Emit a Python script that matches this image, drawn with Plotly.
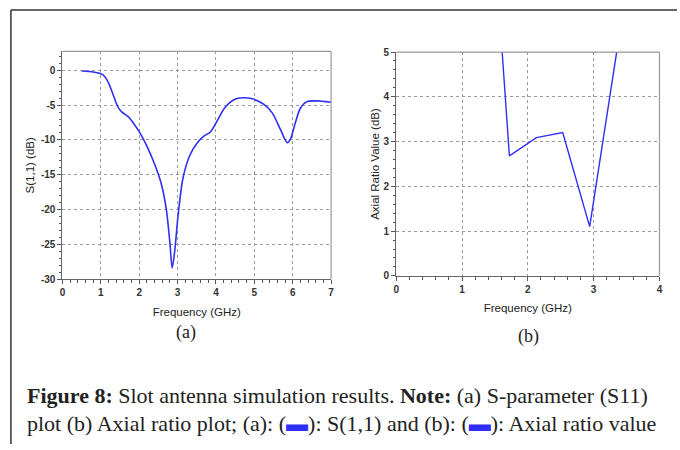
import plotly.graph_objects as go

# ---- data ----
s11_freq = [0.5, 0.8, 1.0, 1.1, 1.2, 1.3, 1.4, 1.46, 1.55, 1.72, 1.85, 2.02, 2.2, 2.41,
            2.58, 2.71, 2.8, 2.86, 2.93, 3.01, 3.14, 3.32, 3.53, 3.7, 3.85, 4.05, 4.22,
            4.48, 4.7, 4.95, 5.25, 5.47, 5.68, 5.86, 5.94, 6.07, 6.2, 6.37, 6.63, 7.0]
s11_db = [-0.1, -0.25, -0.5, -0.9, -1.8, -3.2, -4.7, -5.4, -6.0, -6.7, -7.6, -9.0, -10.9, -13.6,
          -16.4, -20.1, -24.8, -28.4, -25.7, -21.0, -15.5, -12.2, -10.3, -9.4, -8.9, -7.1, -5.45,
          -4.2, -3.95, -4.1, -4.9, -6.15, -8.5, -10.4, -9.9, -7.5, -5.45, -4.5, -4.4, -4.6]

ar_freq = [1.61, 1.72, 2.13, 2.53, 2.94, 3.35]
ar_db = [5.0, 2.68, 3.09, 3.2, 1.1, 5.0]

a_xticks = [0, 1, 2, 3, 4, 5, 6, 7]
a_yticks = [-30, -25, -20, -15, -10, -5, 0]
b_xticks = [0, 1, 2, 3, 4]
b_yticks = [0, 1, 2, 3, 4, 5]

W, H = 680, 450
BLUE = "#2f2ff5"
TICKFONT = dict(family="Liberation Sans, Arial, sans-serif", size=10, color="#333", weight="bold")
TITLEFONT = dict(family="Liberation Sans, Arial, sans-serif", size=11.5, color="#222")


def px(x):
    return x / W


def py(y):
    return 1 - y / H


fig = go.Figure()
fig.add_trace(go.Scatter(x=s11_freq, y=s11_db, mode="lines", line=dict(color=BLUE, width=1.6, shape="spline", smoothing=0.8),
                         xaxis="x", yaxis="y", showlegend=False))
fig.add_trace(go.Scatter(x=ar_freq, y=ar_db, mode="lines", line=dict(color=BLUE, width=1.4),
                         xaxis="x2", yaxis="y2", showlegend=False))


def axis(domain, rng, ticks, minor, anchor, title, standoff):
    return dict(domain=domain, range=rng, tickvals=ticks, ticktext=[str(t) for t in ticks],
                showgrid=True, gridcolor="#9a9a9a", griddash="dot", gridwidth=1,
                showline=True, linecolor="#666", linewidth=1.2, mirror=False,
                ticks="outside", ticklen=4, tickcolor="#555", tickfont=TICKFONT,
                minor=dict(dtick=minor, tick0=0, ticks="outside", ticklen=2.5, tickcolor="#555", showgrid=False),
                zeroline=False, anchor=anchor, fixedrange=True,
                title=dict(text=title, font=TITLEFONT, standoff=standoff))


fig.update_layout(
    width=W, height=H, margin=dict(l=0, r=0, t=0, b=0),
    paper_bgcolor="white", plot_bgcolor="white",
    xaxis=axis([px(60), px(331)], [0, 7], a_xticks, 0.2, "y", "Frequency (GHz)", 10),
    yaxis=axis([py(280.7), py(46.7)], [-30, 2.7], a_yticks, 1, "x", "S(1,1) (dB)", 3),
    xaxis2=axis([px(396.7), px(662.3)], [0, 4], b_xticks, 0.2, "y2", "Frequency (GHz)", 9),
    yaxis2=axis([py(277.3), py(47.3)], [0, 5], b_yticks, 0.2, "x2", "Axial Ratio Value (dB)", 1),
)

shapes = []
for xr, yr in (("x", "y"), ("x2", "y2")):
    shapes.append(dict(type="line", xref=f"{xr} domain", yref=f"{yr} domain", x0=0, x1=1, y0=1, y1=1,
                       line=dict(color="#999", width=1.2)))
    shapes.append(dict(type="line", xref=f"{xr} domain", yref=f"{yr} domain", x0=1, x1=1, y0=0, y1=1,
                       line=dict(color="#999", width=1.2)))
# outer frame
shapes.append(dict(type="line", xref="paper", yref="paper", x0=px(8), x1=1, y0=py(4), y1=py(4),
                   line=dict(color="#333", width=1.5)))
shapes.append(dict(type="line", xref="paper", yref="paper", x0=px(8), x1=px(8), y0=py(4), y1=0,
                   line=dict(color="#333", width=1.5)))
fig.update_layout(shapes=shapes)

SERIF = "Liberation Serif, Times New Roman, serif"
ann = [
    dict(x=px(185), y=py(335), text="(a)", font=dict(family=SERIF, size=18, color="#222")),
    dict(x=px(530), y=py(340), text="(b)", font=dict(family=SERIF, size=18, color="#222")),
    dict(x=px(22), y=py(400), xanchor="left",
         text="<b>Figure 8:</b> Slot antenna simulation results. <b>Note:</b> (a) S-parameter (S11)",
         font=dict(family=SERIF, size=22, color="#222")),
    dict(x=px(22), y=py(429), xanchor="left",
         text="plot (b) Axial ratio plot; (a): (<span style='color:#2f2ff5'>▬</span>): S(1,1) and (b): (<span style='color:#2f2ff5'>▬</span>): Axial ratio value",
         font=dict(family=SERIF, size=22, color="#222")),
]
for a in ann:
    a.update(xref="paper", yref="paper", showarrow=False, yanchor=a.get("yanchor", "middle"))
    a.setdefault("xanchor", "center")
fig.update_layout(annotations=ann)

fig.write_html("out.html")
